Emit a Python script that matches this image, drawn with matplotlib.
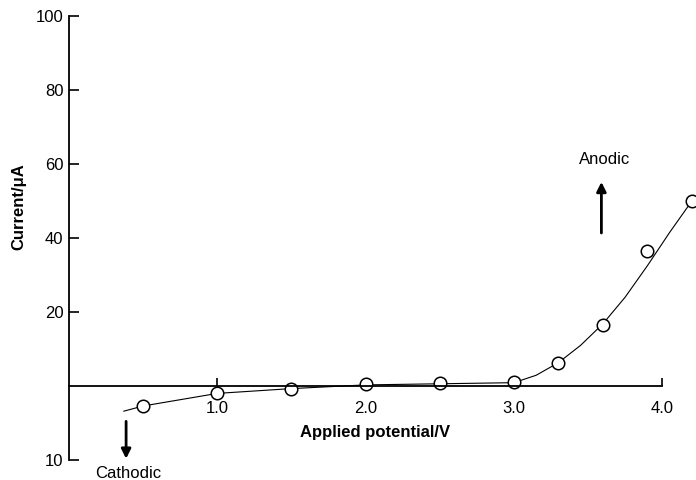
import numpy as np
import matplotlib
matplotlib.use("Agg")
import matplotlib.pyplot as plt

plt.rcParams['font.family'] = ['Liberation Sans', 'DejaVu Sans']

# measured points
potencial = [0.5, 1.0, 1.5, 2.0, 2.5, 3.0, 3.3, 3.6, 3.9, 4.2]
corriente = [-2.7, -1.0, -0.4, 0.6, 0.8, 1.0, 6.3, 16.5, 36.5, 50.0]

# hand drawn curve through the points
curva_x = [0.37, 0.5, 1.0, 1.5, 2.0, 2.5, 3.0, 3.15, 3.3, 3.45, 3.6, 3.75, 3.9, 4.05, 4.2]
curva_y = [-3.4, -2.7, -1.0, -0.35, 0.3, 0.6, 0.9, 2.9, 6.3, 11.0, 16.8, 24.0, 32.5, 41.5, 50.0]

x_ticks = [1.0, 2.0, 3.0, 4.0]
x_labels = ["1.0", "2.0", "3.0", "4.0"]
y_ticks = [-10, 20, 40, 60, 80, 100]
y_labels = ["10", "20", "40", "60", "80", "100"]


# cathodic side is drawn at double scale
def adelante(y):
    y = np.asarray(y, dtype=float)
    return np.where(y < 0, 2 * y, y)


def atras(y):
    y = np.asarray(y, dtype=float)
    return np.where(y < 0, y / 2, y)


fig = plt.figure(figsize=(6.96, 4.8), dpi=100)
ax = fig.add_axes([69 / 696, 20 / 480, 627 / 696, 444 / 480])
ax.set_yscale('function', functions=(adelante, atras))
ax.set_xlim(0, 627 / 148.3)
ax.set_ylim(-10, 100)

ax.plot(curva_x, curva_y, color='black', lw=0.8, zorder=2)
# circles under the axis so the ticks show through them
ax.plot(potencial, corriente, 'o', ms=9, mfc='white', mec='black', mew=1.1,
        zorder=2.2, clip_on=False)

# axes
ax.spines['top'].set_visible(False)
ax.spines['right'].set_visible(False)
ax.spines['left'].set_linewidth(1.3)
ax.spines['bottom'].set_position(('data', 0))
ax.spines['bottom'].set_bounds(0, 4.0)
ax.spines['bottom'].set_linewidth(1.3)

ax.set_xticks(x_ticks)
ax.set_xticklabels(x_labels)
ax.set_yticks(y_ticks)
ax.set_yticklabels(y_labels)
ax.tick_params(axis='x', direction='in', length=6, width=1.2, pad=11, labelsize=12)
ax.tick_params(axis='y', direction='in', length=7, width=1.2, pad=4, labelsize=12)

fig.text(375 / 696, 1 - 433 / 480, "Applied potential/V", ha='center', va='center',
         fontsize=12, fontweight='bold')
fig.text(19 / 696, 1 - 207 / 480, "Current/\u03bcA", ha='center', va='center',
         rotation=90, fontsize=12, fontweight='bold')

# anodic / cathodic arrows
ax.annotate("", xy=(3.59, 55.9), xytext=(3.59, 40.6),
            arrowprops=dict(arrowstyle='-|>', color='black', lw=2, mutation_scale=14))
ax.text(3.61, 61.2, "Anodic", ha='center', va='center', fontsize=12)
ax.annotate("", xy=(0.385, -10.2), xytext=(0.385, -4.4),
            arrowprops=dict(arrowstyle='-|>', color='black', lw=2, mutation_scale=14),
            annotation_clip=False)
ax.text(0.40, -11.8, "Cathodic", ha='center', va='center', fontsize=12, clip_on=False)

fig.savefig("out.png", dpi=100)
